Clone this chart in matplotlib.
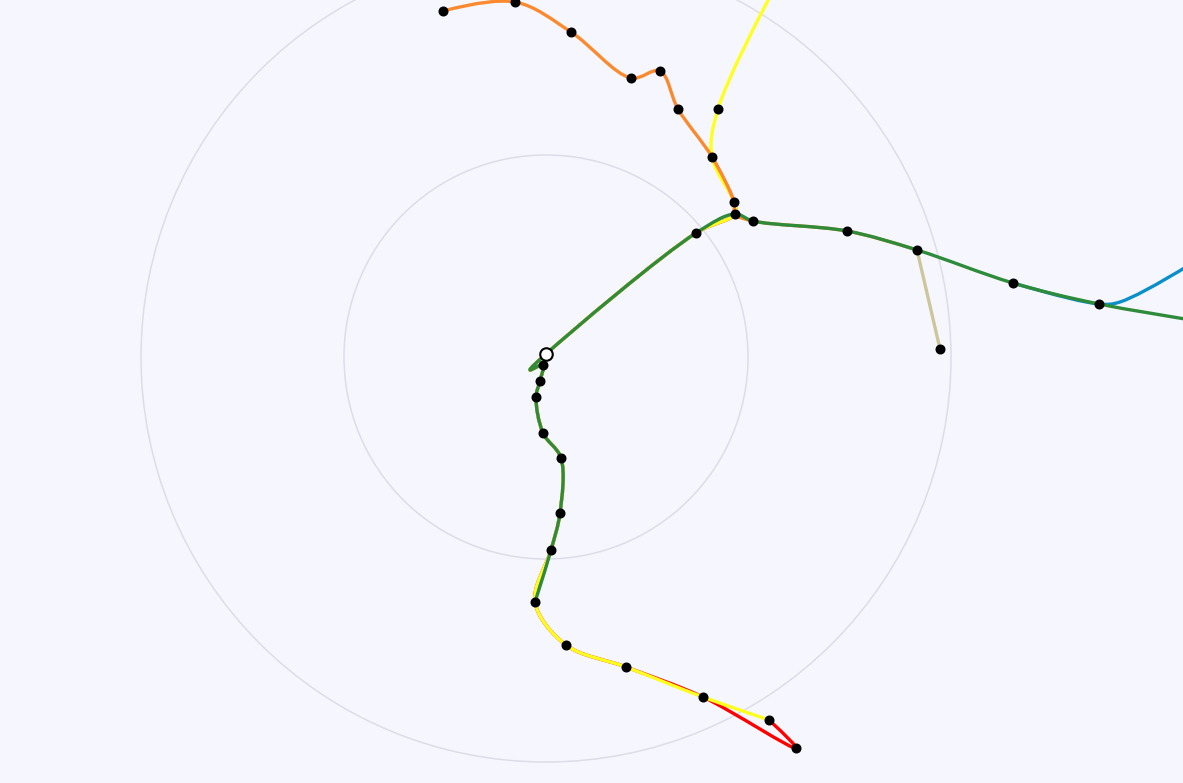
import matplotlib
matplotlib.use("Agg")
import matplotlib.pyplot as plt
from matplotlib.path import Path
from matplotlib.patches import PathPatch, Circle

# route coordinates (chart units, origin = centre of the radial grid, y up)
orange_x = [-103, -31, 25, 85, 114, 132, 166, 188, 189, 207, 301, 371]
orange_y = [346, 355, 325, 279, 286, 248, 200, 155, 143, 136, 126, 107]

yellow_x = [254, 172, 166, 188, 189, 150, 0, -16, -3, -6, -10, -3, 15, 14, 5, -11, 20, 80, 157, 223]
yellow_y = [417, 248, 200, 155, 143, 124, 3, -13, -8, -24, -40, -76, -101, -156, -193, -245, -288, -310, -340, -363]

red_x = [166, 188, 189, 150, 0, -16, -3, -6, -10, -3, 15, 14, 5, -11, 20, 80, 157, 250, 223]
red_y = [200, 155, 143, 124, 3, -13, -8, -24, -40, -76, -101, -156, -193, -245, -288, -310, -340, -391, -363]

green_x = [690, 553, 467, 371, 301, 207, 189, 150, 0, -16, -3, -6, -10, -3, 15, 14, 5, -11]
green_y = [30, 53, 74, 107, 126, 136, 143, 124, 3, -13, -8, -24, -40, -76, -101, -156, -193, -245]

blue_x = [467, 553, 574, 645]
blue_y = [74, 53, 55, 93]

tan_x = [371, 394]
tan_y = [107, 8]

# stations
stn_x = [-103, -31, 25, 85, 114, 132, 172, 166, 188, 189, 207, 150, 301, 371, 467, 553, 394,
         -3, -6, -10, -3, 15, 14, 5, -11, 20, 80, 157, 223, 250]
stn_y = [346, 355, 325, 279, 286, 248, 248, 200, 155, 143, 136, 124, 126, 107, 74, 53, 8,
         -8, -24, -40, -76, -101, -156, -193, -245, -288, -310, -340, -363, -391]
hub_x, hub_y = 0, 3

grid_r = [202, 405]


def tangent(p0, p1, p2, s=1.0):
    d1x, d1y = p0[0] - p1[0], p0[1] - p1[1]
    d2x, d2y = p2[0] - p1[0], p2[1] - p1[1]
    d1a = (d1x * d1x + d1y * d1y) ** 0.25
    d2a = (d2x * d2x + d2y * d2y) ** 0.25
    nx = (d2a * d2a * d1x - d1a * d1a * d2x) * s
    ny = (d2a * d2a * d1y - d1a * d1a * d2y) * s
    den1 = 3 * d2a * (d1a + d2a)
    den2 = 3 * d1a * (d1a + d2a)
    a = (p1[0] + (nx / den1 if den1 else 0), p1[1] + (ny / den1 if den1 else 0))
    b = (p1[0] - (nx / den2 if den2 else 0), p1[1] - (ny / den2 if den2 else 0))
    return a, b


def spline_path(xs, ys):
    pts = list(zip(xs, ys))
    if len(pts) < 3:
        return Path(pts)
    tg = [tangent(pts[i - 1], pts[i], pts[i + 1]) for i in range(1, len(pts) - 1)]
    verts = [pts[0], tg[0][0], pts[1]]
    codes = [Path.MOVETO, Path.CURVE3, Path.CURVE3]
    for i in range(2, len(pts) - 1):
        verts += [tg[i - 2][1], tg[i - 1][0], pts[i]]
        codes += [Path.CURVE4] * 3
    verts += [tg[-1][1], pts[-1]]
    codes += [Path.CURVE3] * 2
    return Path(verts, codes)


bg = '#f6f7fe'
fig = plt.figure(figsize=(11.83, 7.83), dpi=100, facecolor=bg)
ax = fig.add_axes([0, 0, 1, 1])
ax.set_facecolor(bg)
ax.set_xlim(-546, 637)
ax.set_ylim(-426, 357)
ax.axis('off')

for r in grid_r:
    ax.add_patch(Circle((0, 0), r, fill=False, ec='#dcdde9', lw=1.1, zorder=1))

routes = [
    (tan_x, tan_y, '#cdc69a'),
    (blue_x, blue_y, '#0a8fc9'),
    (red_x, red_y, '#ff0000'),
    (yellow_x, yellow_y, '#ffff1f'),
    (orange_x, orange_y, '#fb8a2e'),
    (green_x, green_y, '#2e8b3a'),
]
for k, (xs, ys, c) in enumerate(routes):
    ax.add_patch(PathPatch(spline_path(xs, ys), fill=False, ec=c, lw=2.4,
                           capstyle='round', joinstyle='round', zorder=2 + k))

ax.plot(stn_x, stn_y, 'o', color='black', ms=6.2, mec='black', zorder=10)
ax.plot([hub_x], [hub_y], 'o', color='white', ms=9, mec='black', mew=1.5, zorder=11)

fig.savefig('out.png', dpi=100, facecolor=bg)
